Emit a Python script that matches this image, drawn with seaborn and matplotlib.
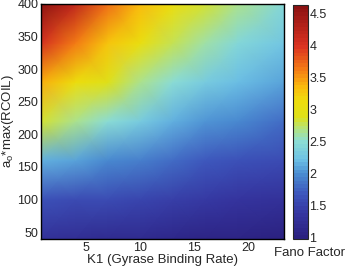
import numpy as np
import matplotlib
matplotlib.use("Agg")
import matplotlib.pyplot as plt
import seaborn as sns
from matplotlib.colors import LinearSegmentedColormap

# values (Fano factor), rows = a_o*max(RCOIL), cols = K1
k1 = [0.85, 4, 7, 10, 13, 16, 19, 23.3]
rcoil = [39.5, 100, 160, 220, 280, 340, 400]
fano = [
    [1.30, 1.22, 1.18, 1.15, 1.12, 1.08, 1.04, 1.00],
    [1.62, 1.60, 1.55, 1.50, 1.45, 1.40, 1.35, 1.30],
    [2.15, 2.08, 2.00, 1.90, 1.80, 1.70, 1.65, 1.57],
    [2.85, 2.65, 2.48, 2.32, 2.17, 2.05, 1.95, 1.83],
    [3.40, 3.12, 2.88, 2.65, 2.48, 2.32, 2.20, 2.07],
    [4.05, 3.65, 3.30, 3.05, 2.80, 2.60, 2.45, 2.28],
    [4.65, 4.20, 3.72, 3.35, 3.10, 2.85, 2.65, 2.45],
]
cbar_ticks = [1, 1.5, 2, 2.5, 3, 3.5, 4, 4.5]

vmin, vmax = 0.97, 4.64
nodes = [(0.97, (0.17, 0.13, 0.50)), (1.35, (0.21, 0.21, 0.63)),
         (1.66, (0.24, 0.34, 0.74)), (1.98, (0.29, 0.55, 0.82)),
         (2.21, (0.43, 0.76, 0.90)), (2.50, (0.55, 0.87, 0.83)),
         (2.72, (0.72, 0.89, 0.45)), (2.88, (0.87, 0.88, 0.10)),
         (3.12, (0.93, 0.87, 0.05)), (3.35, (0.98, 0.74, 0.05)),
         (3.62, (0.96, 0.50, 0.08)), (4.01, (0.86, 0.20, 0.13)),
         (4.64, (0.55, 0.07, 0.07))]
cmap = LinearSegmentedColormap.from_list(
    "fano", [((v - vmin) / (vmax - vmin), c) for v, c in nodes], N=64)

sns.set_style("ticks")
plt.rcParams['font.family'] = ['Liberation Sans', 'DejaVu Sans']
plt.rcParams['mathtext.fontset'] = 'custom'
plt.rcParams['mathtext.rm'] = 'Liberation Sans'
plt.rcParams['mathtext.it'] = 'Liberation Sans'

fig = plt.figure(figsize=(3.46, 2.66), dpi=100)
ax = fig.add_axes([41 / 346, 27 / 266, 243 / 346, 235 / 266])
mesh = ax.pcolormesh(k1, rcoil, np.array(fano), shading='gouraud',
                     cmap=cmap, vmin=vmin, vmax=vmax)
ax.set_xlim(0.85, 23.3)
ax.set_ylim(39.5, 400)
ax.set_xticks([5, 10, 15, 20])
ax.set_yticks(range(50, 401, 50))
ax.tick_params(direction='in', top=True, right=True, length=3,
               labelsize=9, width=0.8, pad=2)
for s in ax.spines.values():
    s.set_linewidth(1)
    s.set_color('black')
ax.set_xlabel('K1 (Gyrase Binding Rate)', fontsize=9.5, labelpad=0)
ax.set_ylabel(r'a$_{\rm o}$*max(RCOIL)', fontsize=9.5, labelpad=1)

cax = fig.add_axes([293 / 346, 27 / 266, 15 / 346, 234 / 266])
cb = fig.colorbar(mesh, cax=cax, ticks=cbar_ticks)
cb.ax.set_yticklabels(['1', '1.5', '2', '2.5', '3', '3.5', '4', '4.5'])
cax.tick_params(direction='in', left=True, right=True, length=2.5,
                labelsize=9, width=0.8, pad=1)
cb.outline.set_linewidth(0.8)
fig.text(309 / 346, 1 - 253 / 266, 'Fano Factor', ha='center', va='center',
         fontsize=9.5)

fig.savefig('out.png', dpi=100)
